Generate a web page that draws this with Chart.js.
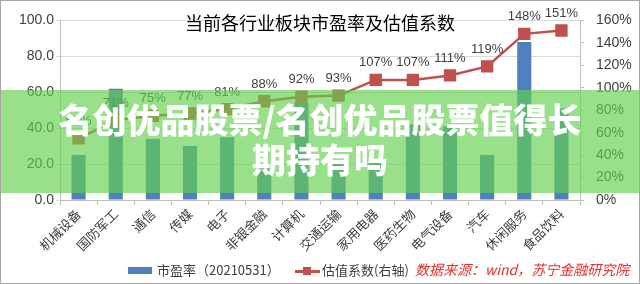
<!DOCTYPE html>
<html>
<head>
<meta charset="utf-8">
<script src="https://cdn.jsdelivr.net/npm/chart.js@4.4.0/dist/chart.umd.min.js"></script>
<style>
  body { margin: 0; background: #fff; }
  #wrap { position: relative; width: 640px; height: 284px; overflow: hidden; }
  #frame { position: absolute; left: 0; top: 0; width: 640px; height: 284px; box-sizing: border-box; border: 1px solid #a6a6a6; pointer-events: none; }
  #title { position: absolute; left: 0; width: 640px; top: 9px; text-align: center; font: 18px "Noto Sans CJK SC", sans-serif; color: #000; }
  .leg { position: absolute; top: 261px; font: 13px "Noto Sans CJK SC", sans-serif; color: #404040; line-height: 18px; white-space: nowrap; }
  #src { position: absolute; left: 415px; top: 260px; font: italic 14px "Noto Sans CJK SC", sans-serif; color: #e8302c; white-space: nowrap; line-height: 18px; }
  #banner { position: absolute; left: 0; top: 90px; width: 640px; height: 103px; background: rgba(99, 208, 78, 0.66); }
  #banner div { position: absolute; left: 0; width: 640px; text-align: center; color: #fff; font: 900 34px "Noto Sans CJK SC", sans-serif; line-height: 40px; white-space: nowrap; }
</style>
</head>
<body>
<div id="wrap">
  <canvas id="myChart" width="640" height="284"></canvas>
  <div id="title">当前各行业板块市盈率及估值系数</div>
  <div class="leg" style="left:128px"><span style="display:inline-block;width:24px;height:7px;background:#4f81bd;vertical-align:1px;margin-right:5px"></span>市盈率（20210531）</div>
  <div class="leg" style="left:295px"><span style="display:inline-block;position:relative;width:25px;height:8px;vertical-align:0px;margin-right:2px"><span style="position:absolute;left:0;top:3px;width:25px;height:2.5px;background:#c0504d"></span><span style="position:absolute;left:8px;top:0;width:8px;height:8px;background:#c0504d"></span></span>估值系数(右轴)</div>
  <div id="src">数据来源：wind，苏宁金融研究院</div>
  <div id="banner">
    <div style="top:9px">名创优品股票/名创优品股票值得长</div>
    <div style="top:49px">期持有吗</div>
  </div>
  <div id="frame"></div>
</div>
<script>
const categories = ["机械设备", "国防军工", "通信", "传媒", "电子", "非银金融", "计算机", "交通运输", "家用电器", "医药生物", "电气设备", "汽车", "休闲服务", "食品饮料"];
// 市盈率 (left axis)
const peValues = [25, 62, 34, 30, 35, 19, 54, 20, 22, 42, 41, 25, 88, 51];
// 估值系数, in percent (right axis)
const coefValues = [55, 71, 75, 77, 81, 88, 92, 93, 107, 107, 111, 119, 148, 151];

const numFont = { family: "Liberation Sans, Arial, sans-serif", size: 14 };

// draws the "xx%" labels above the line points
const pointLabels = {
    id: "pointLabels",
    afterDatasetsDraw(chart) {
        const meta = chart.getDatasetMeta(0);
        const ctx = chart.ctx;
        ctx.save();
        ctx.font = "13px Liberation Sans, Arial, sans-serif";
        ctx.fillStyle = "#404040";
        ctx.textAlign = "center";
        ctx.textBaseline = "middle";
        meta.data.forEach((pt, i) => {
            ctx.fillText(coefValues[i] + "%", pt.x, pt.y - 17);
        });
        ctx.restore();
    }
};

const ctx = document.getElementById("myChart").getContext("2d");
const chart = new Chart(ctx, {
    type: "bar",
    data: {
        labels: categories,
        datasets: [{
            type: "line",
            label: "估值系数(右轴)",
            data: coefValues,
            yAxisID: "y1",
            borderColor: "#c0504d",
            backgroundColor: "#c0504d",
            borderWidth: 2.5,
            pointStyle: "rect",
            pointRadius: 7,
            pointHoverRadius: 7,
            tension: 0
        }, {
            label: "市盈率（20210531）",
            data: peValues,
            yAxisID: "y",
            backgroundColor: "#4f81bd",
            categoryPercentage: 1,
            barPercentage: 0.38
        }]
    },
    options: {
        responsive: false,
        animation: false,
        devicePixelRatio: 1,
        layout: { padding: { top: 16, left: 0, right: 0, bottom: 0 } },
        plugins: {
            legend: { display: false },
            tooltip: { enabled: false }
        },
        scales: {
            x: {
                grid: { display: true, drawOnChartArea: false, drawTicks: true, tickLength: 5, color: "#bfbfbf" },
                border: { color: "#bfbfbf" },
                ticks: {
                    minRotation: 45, maxRotation: 45, padding: 1, autoSkip: false,
                    color: "#404040",
                    font: { family: "Noto Sans CJK SC", size: 13 }
                },
                afterFit(s) { s.height = 84; }
            },
            y: {
                position: "left",
                min: 0, max: 100,
                grid: { color: "#d9d9d9", tickLength: 4 },
                border: { color: "#bfbfbf" },
                ticks: {
                    stepSize: 10, padding: 2, color: "#404040", font: numFont,
                    callback: (v) => v.toFixed(1)
                },
                afterFit(s) { s.width = 60; }
            },
            y1: {
                position: "right",
                min: 0, max: 160,
                grid: { drawOnChartArea: false, tickLength: 4, color: "#bfbfbf" },
                border: { color: "#bfbfbf" },
                ticks: {
                    stepSize: 20, padding: 12, color: "#404040", font: numFont,
                    callback: (v) => v + "%"
                },
                afterFit(s) { s.width = 60; }
            }
        }
    },
    plugins: [pointLabels]
});
</script>
</body>
</html>
